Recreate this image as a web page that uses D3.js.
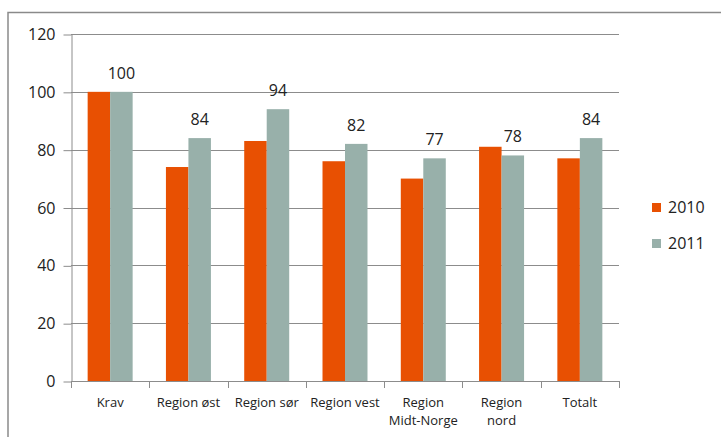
<!DOCTYPE html>
<html>
<head>
<meta charset="utf-8">
<script src="https://cdn.jsdelivr.net/npm/d3@7"></script>
<style>
  html, body { margin: 0; padding: 0; background: #fff; }
  svg { display: block; }
  text { font-family: "Open Sans", "Liberation Sans", sans-serif; fill: #222; }
</style>
</head>
<body>
<svg id="chart" width="721" height="437"></svg>
<script>
const categories = [["Krav"], ["Region øst"], ["Region sør"], ["Region vest"], ["Region", "Midt-Norge"], ["Region", "nord"], ["Totalt"]];
const series2010 = [100, 74, 83, 76, 70, 81, 77];
const series2011 = [100, 84, 94, 82, 77, 78, 84];
const seriesNames = ["2010", "2011"];
const yTicks = [0, 20, 40, 60, 80, 100, 120];
const colors = ["#E85002", "#98B0AA"];

(function () {
const svg = d3.select("#chart");
const W = 721, H = 437;

// outer frame
svg.append("rect").attr("x", 8).attr("y", 12.5).attr("width", W + 10).attr("height", H)
  .attr("fill", "none").attr("stroke", "#8a8a8a").attr("stroke-width", 1.5);

const pLeft = 71, pRight = 619, pTop = 34, pBottom = 381;
const keys = categories.map((c, i) => i);
const x = d3.scaleBand().domain(keys).range([pLeft, pRight]).paddingInner(0).paddingOuter(0);
const y = d3.scaleLinear().domain([0, 120]).range([pBottom, pTop]);
const inner = d3.scaleBand().domain(seriesNames).range([0, x.bandwidth()]).paddingInner(0).paddingOuter(0.74);

// gridlines
svg.append("g").selectAll("line").data(yTicks.filter(t => t > 0)).join("line")
  .attr("x1", pLeft).attr("x2", pRight)
  .attr("y1", d => Math.round(y(d)) + 0.5).attr("y2", d => Math.round(y(d)) + 0.5)
  .attr("stroke", "#8c8c8c").attr("stroke-width", 1);

// y axis
const yAxis = d3.axisLeft(y).tickValues(yTicks).tickSize(8).tickPadding(8).tickSizeOuter(0);
const gy = svg.append("g").attr("transform", `translate(${pLeft + 0.5},0.5)`).call(yAxis);
gy.select(".domain").attr("stroke", "#8c8c8c");
gy.selectAll(".tick line").attr("stroke", "#8c8c8c");
gy.selectAll(".tick text").style("font-size", "16px").attr("fill", "#222");

// bars
const data = keys.map(i => ({ i, vals: [series2010[i], series2011[i]] }));
const groups = svg.append("g").selectAll("g").data(data).join("g")
  .attr("transform", d => `translate(${x(d.i)},0)`);
groups.selectAll("rect").data(d => d.vals.map((v, k) => ({ v, k }))).join("rect")
  .attr("x", d => inner(seriesNames[d.k]))
  .attr("width", inner.bandwidth())
  .attr("y", d => y(d.v))
  .attr("height", d => y(0) - y(d.v))
  .attr("fill", d => colors[d.k]);

// value labels for 2011
groups.append("text")
  .attr("x", inner("2011") + inner.bandwidth() / 2)
  .attr("y", d => y(d.vals[1]) - 13)
  .attr("text-anchor", "middle")
  .style("font-size", "16px")
  .text(d => d.vals[1]);

// x axis
svg.append("line").attr("x1", pLeft).attr("x2", pRight)
  .attr("y1", pBottom + 0.5).attr("y2", pBottom + 0.5).attr("stroke", "#8c8c8c");
const xt = d3.range(categories.length + 1).map(i => pLeft + i * x.bandwidth());
svg.append("g").selectAll("line").data(xt).join("line")
  .attr("x1", d => Math.round(d) + 0.5).attr("x2", d => Math.round(d) + 0.5)
  .attr("y1", pBottom).attr("y2", pBottom + 7).attr("stroke", "#8c8c8c");

const labels = svg.append("g").selectAll("text").data(keys).join("text")
  .attr("text-anchor", "middle")
  .attr("x", i => x(i) + x.bandwidth() / 2)
  .attr("y", 407)
  .style("font-size", "13px");
labels.selectAll("tspan").data(i => categories[i]).join("tspan")
  .attr("x", function() { return d3.select(this.parentNode).attr("x"); })
  .attr("dy", (d, j) => j === 0 ? 0 : 18)
  .text(d => d);

// legend
const lg = svg.append("g").selectAll("g").data(seriesNames).join("g")
  .attr("transform", (d, k) => `translate(652,${203 + k * 36})`);
lg.append("rect").attr("width", 9).attr("height", 9).attr("fill", (d, k) => colors[k]);
lg.append("text").attr("x", 16).attr("y", 10).style("font-size", "16px").text(d => d);
})();
</script>
</body>
</html>
